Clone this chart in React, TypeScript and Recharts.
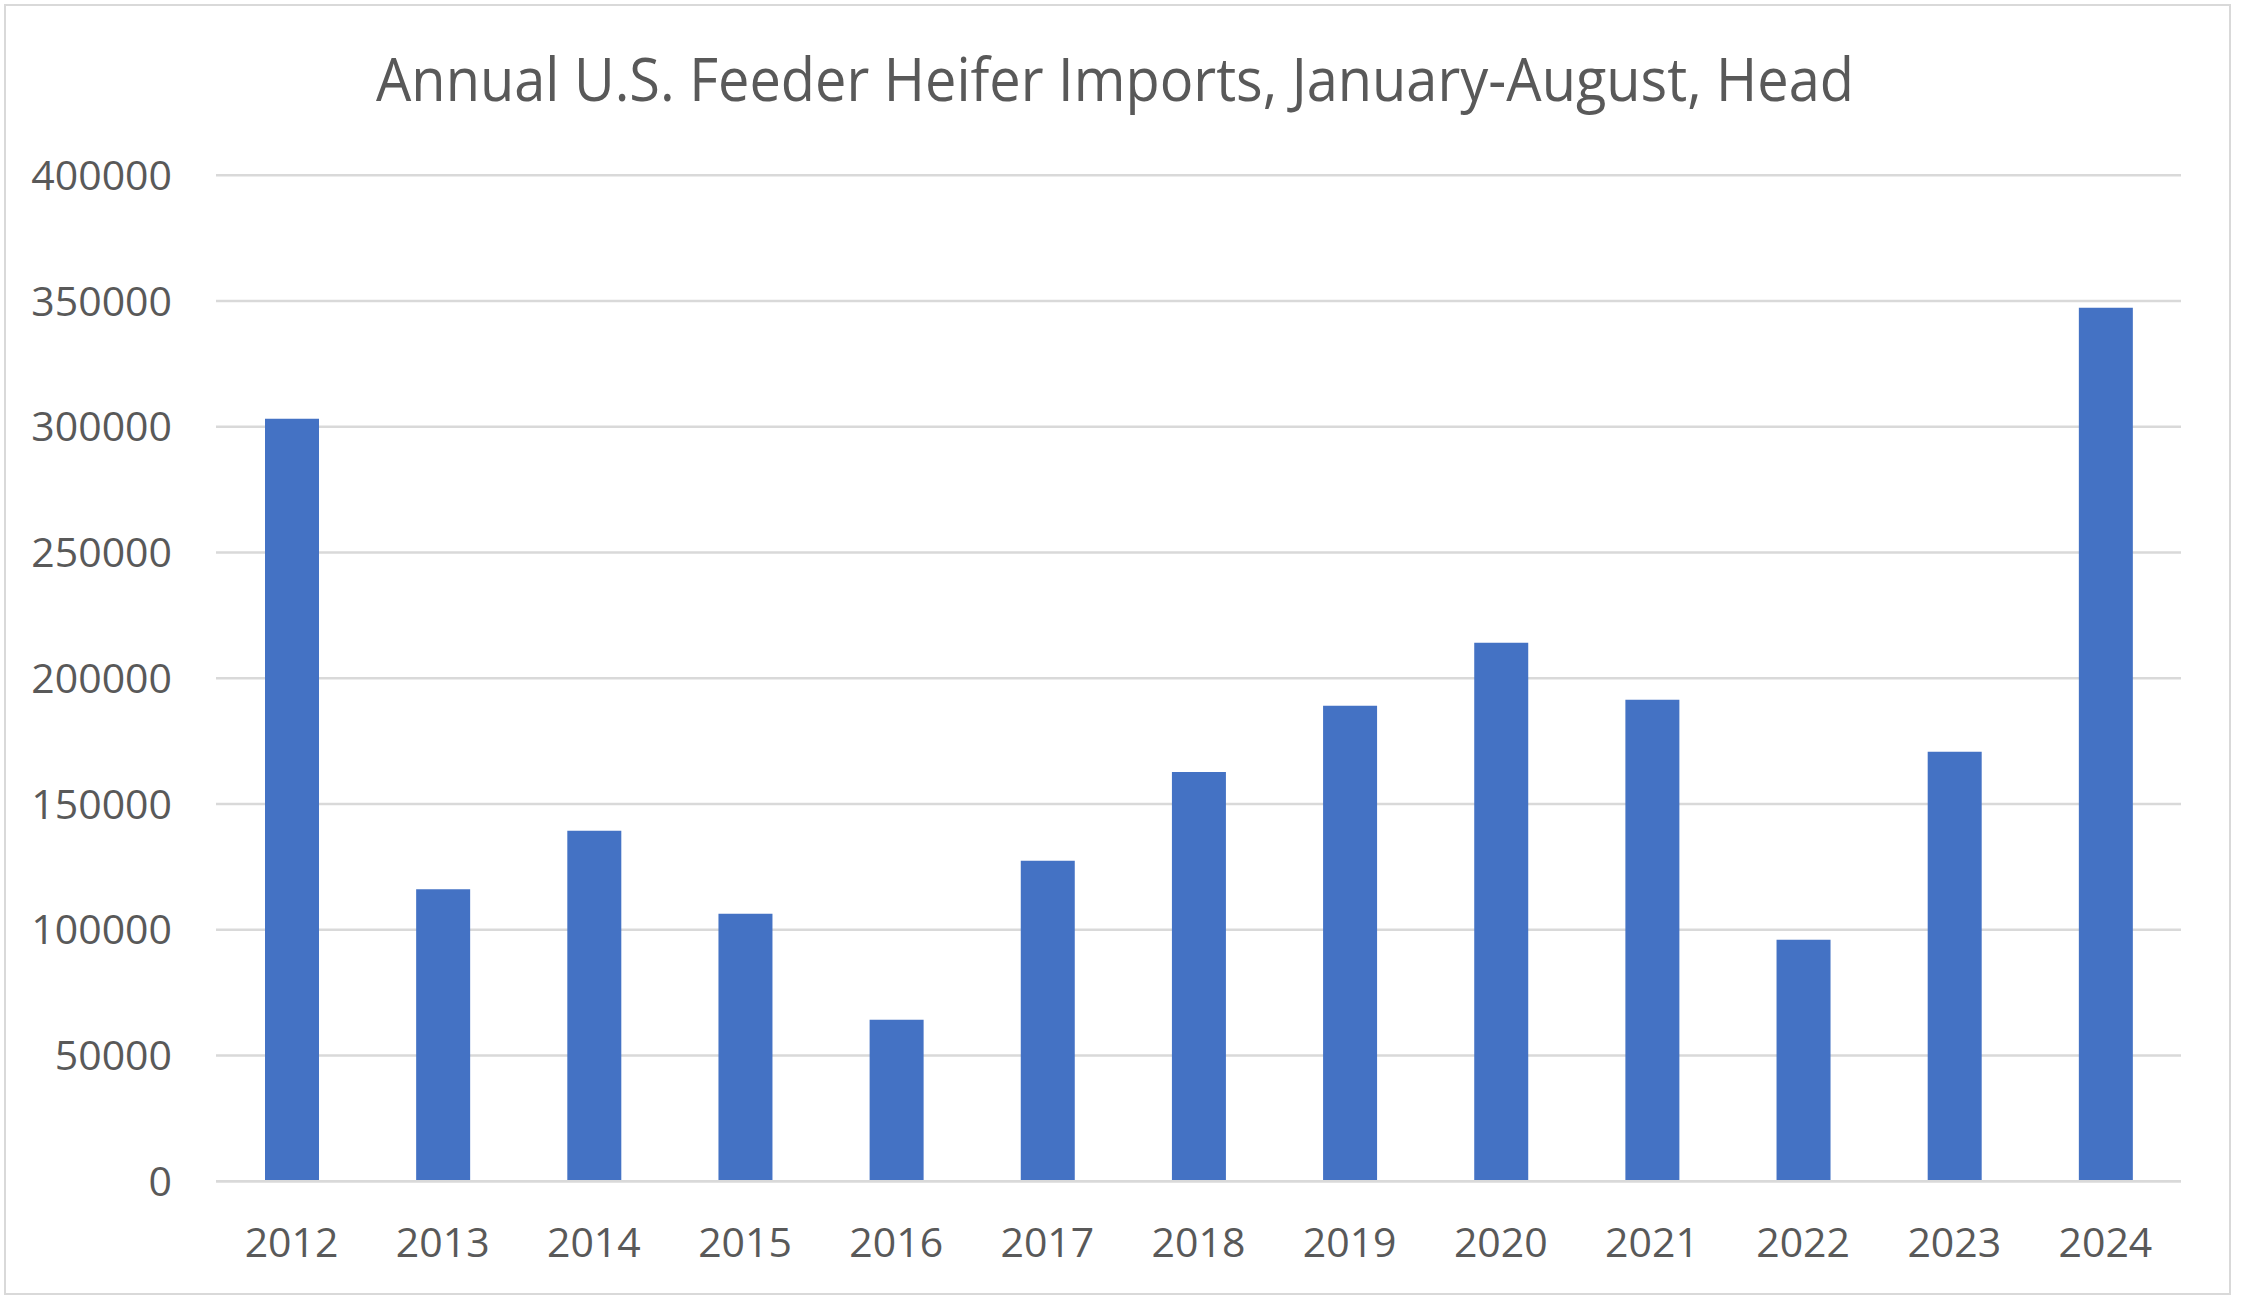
import React from "react";
import { BarChart, Bar, XAxis, YAxis, CartesianGrid } from "recharts";

const years = ["2012", "2013", "2014", "2015", "2016", "2017", "2018", "2019", "2020", "2021", "2022", "2023", "2024"];
const heiferImports = [303200, 116100, 139400, 106400, 64200, 127500, 162700, 189100, 214100, 191500, 96000, 170800, 347300];
const yTicks = [0, 50000, 100000, 150000, 200000, 250000, 300000, 350000, 400000];
const titleText = "Annual U.S. Feeder Heifer Imports, January-August, Head";

const data = years.map((year, i) => ({ year, value: heiferImports[i] }));

const W = 2241;
const H = 1306;
const FONT = "'Open Sans', sans-serif";
const TEXT = "#595959";
const GRID = "#d9d9d9";

export default function App() {
  return (
    <div style={{ position: "absolute", left: 0, top: 0, width: W, height: H, background: "#fff", overflow: "hidden" }}>
      <div
        style={{
          position: "absolute",
          left: 4,
          top: 4,
          width: 2227,
          height: 1291,
          border: `2px solid ${GRID}`,
          boxSizing: "border-box",
        }}
      />
      <div style={{ position: "absolute", left: 0, top: 0 }}>
        <BarChart
          width={W}
          height={H}
          data={data}
          margin={{ top: 175.3, right: 60, bottom: 0, left: 0 }}
          barSize={54}
        >
          <CartesianGrid vertical={false} stroke={GRID} strokeWidth={2.5} />
          <XAxis
            dataKey="year"
            height={124.7}
            axisLine={{ stroke: GRID, strokeWidth: 2.5 }}
            tickLine={false}
            tickSize={0}
            tickMargin={47}
            tick={{ fill: TEXT, fontSize: 41, fontFamily: FONT }}
            interval={0}
          />
          <YAxis
            width={216}
            domain={[0, 400000]}
            ticks={yTicks}
            axisLine={false}
            tickLine={false}
            tickSize={0}
            tickMargin={44}
            tick={{ fill: TEXT, fontSize: 41, fontFamily: FONT }}
            interval={0}
          />
          <Bar dataKey="value" fill="#4472C4" isAnimationActive={false} />
        </BarChart>
      </div>
      <svg width={W} height={H} style={{ position: "absolute", left: 0, top: 0, pointerEvents: "none" }}>
        <text
          x={1115}
          y={101}
          textAnchor="middle"
          fill={TEXT}
          fontSize={60}
          fontFamily={FONT}
          textLength={1478}
          lengthAdjust="spacingAndGlyphs"
        >
          {titleText}
        </text>
      </svg>
    </div>
  );
}
